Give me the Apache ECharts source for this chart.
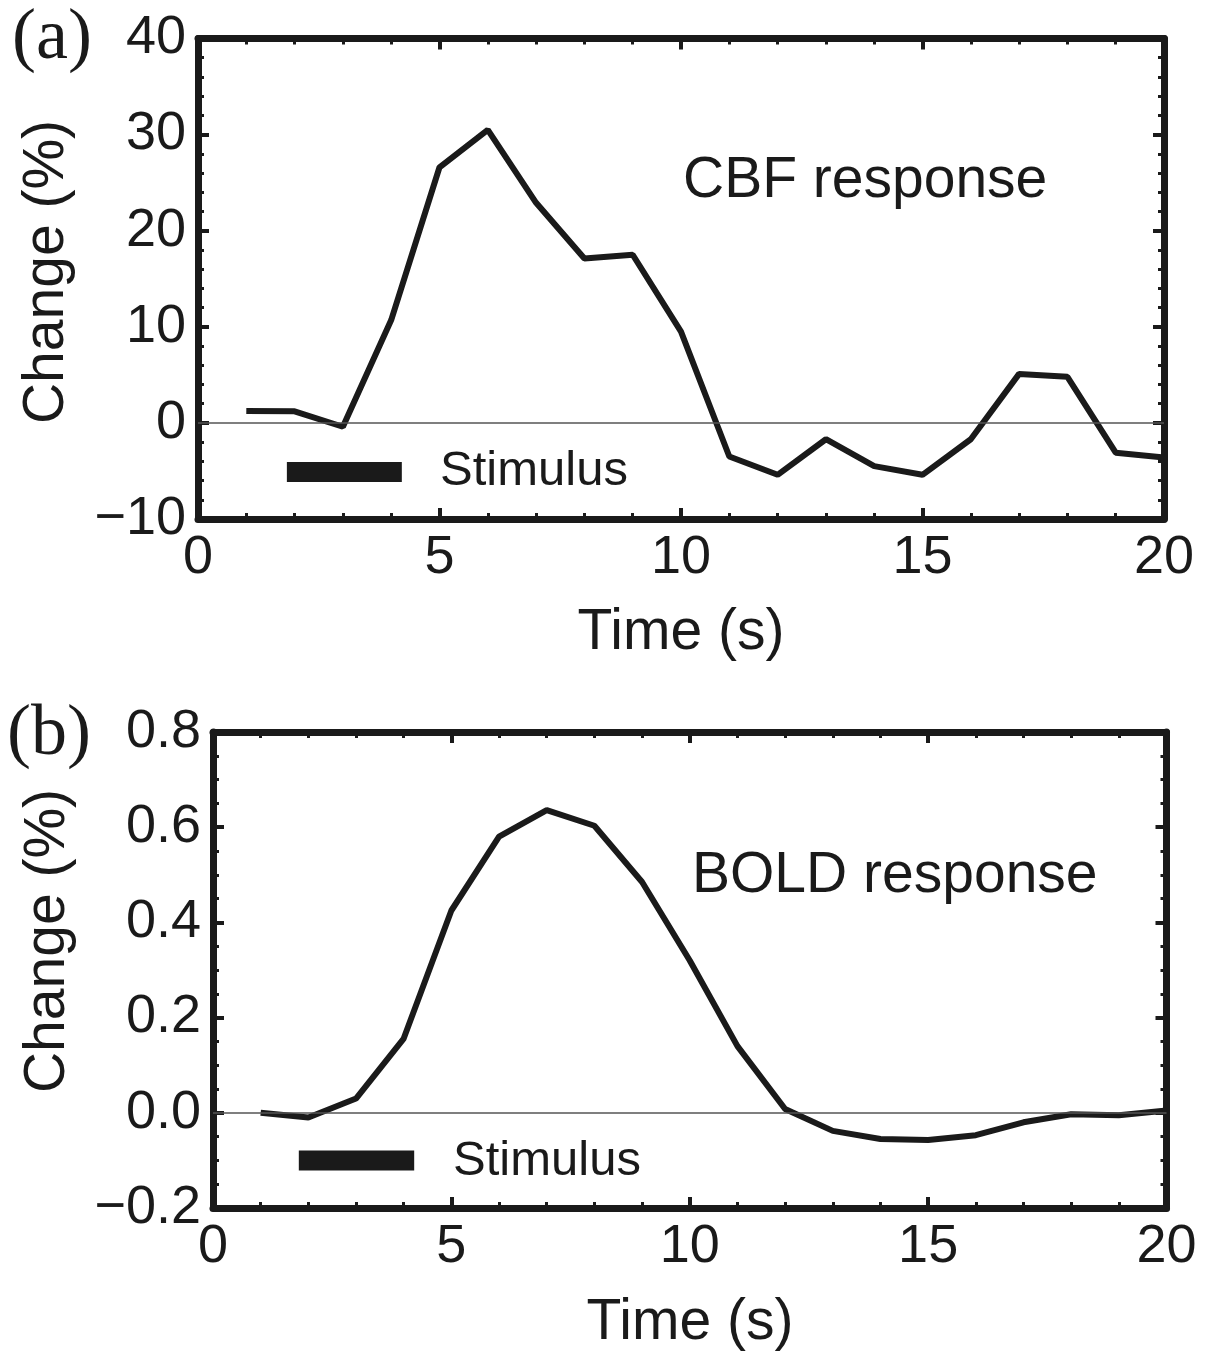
<!DOCTYPE html>
<html>
<head>
<meta charset="utf-8">
<script src="https://cdn.jsdelivr.net/npm/echarts@6/dist/echarts.min.js"></script>
<style>
html,body{margin:0;padding:0;background:#fff;}
#chart{width:1212px;height:1353px;}
</style>
</head>
<body>
<div id="chart"></div>
<script>
// ---- data ----
const time = [1,2,3,4,5,6,7,8,9,10,11,12,13,14,15,16,17,18,19,20];
const cbf = [1.25, 1.2, -0.4, 10.7, 26.6, 30.5, 22.9, 17.1, 17.5, 9.5, -3.5, -5.4, -1.7, -4.5, -5.4, -1.7, 5.1, 4.8, -3.1, -3.6];
const bold = [0.0, -0.01, 0.03, 0.156, 0.425, 0.58, 0.636, 0.603, 0.485, 0.32, 0.14, 0.008, -0.038, -0.055, -0.057, -0.047, -0.02, -0.003, -0.005, 0.005];
const stimulusTimeA = [1.84, 4.22];
const stimulusLevelA = -5.1;
const stimulusTimeB = [1.8, 4.22];
const stimulusLevelB = -0.1;
const xTicks = [0, 5, 10, 15, 20];
const yTicksA = [-10, 0, 10, 20, 30, 40];
const yTicksB = [-0.2, 0.0, 0.2, 0.4, 0.6, 0.8];

const INK = '#1a1a1a';
const SANS = 'Liberation Sans, Arial, Helvetica, sans-serif';
const SERIF = 'Liberation Serif, Times New Roman, serif';

function minus(s){ return String(s).replace('-', '\u2212'); }

function xAxisPair(gi, min, max){
  const base = {
    gridIndex: gi, type: 'value', min: min, max: max, interval: 5,
    splitLine: {show:false},
    axisLine: {show:true, onZero:false, lineStyle:{color:INK, width:7}},
    axisTick: {show:true, inside:true, length:11, lineStyle:{color:INK, width:4}},
    minorTick: {show:true, splitNumber:5, length:6, lineStyle:{color:INK, width:3}},
  };
  return [
    Object.assign({}, base, {position:'bottom',
      axisLabel:{show:true, margin:12, fontSize:54, color:INK, fontFamily:SANS,
        formatter: v => xTicks.includes(v) ? minus(v) : ''}}),
    Object.assign({}, base, {position:'top', axisLabel:{show:false}})
  ];
}
function yAxisPair(gi, min, max, interval, split, fmt){
  const base = {
    gridIndex: gi, type: 'value', min: min, max: max, interval: interval,
    splitLine: {show:false},
    axisLine: {show:true, onZero:false, lineStyle:{color:INK, width:7}},
    axisTick: {show:true, inside:true, length:11, lineStyle:{color:INK, width:4}},
    minorTick: {show:true, splitNumber:split, length:6, lineStyle:{color:INK, width:3}},
  };
  return [
    Object.assign({}, base, {position:'left',
      axisLabel:{show:true, margin:12, fontSize:54, color:INK, fontFamily:SANS, formatter: fmt}}),
    Object.assign({}, base, {position:'right', axisLabel:{show:false}})
  ];
}

const xa = xAxisPair(0, 0, 20), xb = xAxisPair(1, 0, 20);
const ya = yAxisPair(0, -10, 40, 10, 5, v => minus(Math.round(v)));
const yb = yAxisPair(1, -0.2, 0.8, 0.2, 4, v => minus(v.toFixed(1)));

const zeroLine = {
  silent: true, symbol: ['none','none'], label:{show:false},
  lineStyle: {color:'#555', width:1.5, type:'solid'},
  data: [{yAxis: 0}]
};

const option = {
  backgroundColor: '#ffffff',
  animation: false,
  grid: [
    {left:198, top:38.5, width:966, height:480.5},
    {left:213, top:732, width:953.5, height:476}
  ],
  xAxis: [xa[0], xa[1], xb[0], xb[1]].map((a,i)=>Object.assign(a,{gridIndex: i<2?0:1})),
  yAxis: [ya[0], ya[1], yb[0], yb[1]].map((a,i)=>Object.assign(a,{gridIndex: i<2?0:1})),
  series: [
    {
      type:'line', xAxisIndex:0, yAxisIndex:0, z:3,
      data: time.map((t,i)=>[t, cbf[i]]),
      symbol:'none', lineStyle:{color:INK, width:6}, markLine: zeroLine
    },
    {
      type:'line', xAxisIndex:0, yAxisIndex:0,
      data: stimulusTimeA.map(t=>[t, stimulusLevelA]),
      symbol:'none', lineStyle:{color:INK, width:20, cap:'butt'}
    },
    {
      type:'line', xAxisIndex:2, yAxisIndex:2, z:3,
      data: time.map((t,i)=>[t, bold[i]]),
      symbol:'none', lineStyle:{color:INK, width:6}, markLine: zeroLine
    },
    {
      type:'line', xAxisIndex:2, yAxisIndex:2,
      data: stimulusTimeB.map(t=>[t, stimulusLevelB]),
      symbol:'none', lineStyle:{color:INK, width:20, cap:'butt'}
    }
  ],
  graphic: [
    {type:'text', left:12, top:3, style:{text:'(a)', font:'72px '+SERIF, fill:INK}},
    {type:'text', left:7, top:699, style:{text:'(b)', font:'72px '+SERIF, fill:INK}},
    {type:'text', x:683, y:181, style:{text:'CBF response', font:'57px '+SANS, fill:INK, verticalAlign:'middle'}},
    {type:'text', x:692, y:876, style:{text:'BOLD response', font:'57px '+SANS, fill:INK, verticalAlign:'middle'}},
    {type:'text', x:440, y:471, style:{text:'Stimulus', font:'49px '+SANS, fill:INK, verticalAlign:'middle'}},
    {type:'text', x:453, y:1161, style:{text:'Stimulus', font:'49px '+SANS, fill:INK, verticalAlign:'middle'}},
    {type:'text', x:681, y:633, style:{text:'Time (s)', font:'57px '+SANS, fill:INK, align:'center', verticalAlign:'middle'}},
    {type:'text', x:690, y:1323, style:{text:'Time (s)', font:'57px '+SANS, fill:INK, align:'center', verticalAlign:'middle'}},
    {type:'text', x:47, y:272, rotation:Math.PI/2, style:{text:'Change (%)', font:'57px '+SANS, fill:INK, align:'center', verticalAlign:'middle'}},
    {type:'text', x:48, y:941, rotation:Math.PI/2, style:{text:'Change (%)', font:'57px '+SANS, fill:INK, align:'center', verticalAlign:'middle'}}
  ]
};

const chart = echarts.init(document.getElementById('chart'), null, {renderer:'canvas'});
chart.setOption(option);
</script>
</body>
</html>
